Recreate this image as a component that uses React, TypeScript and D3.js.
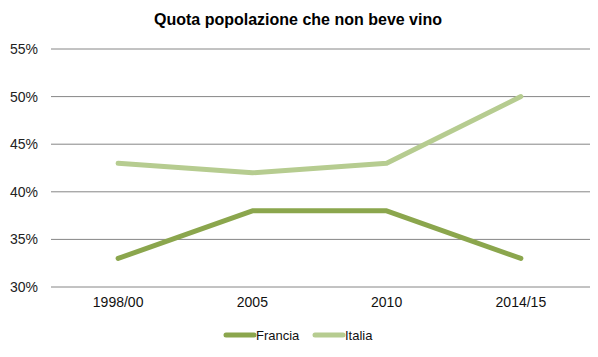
import React from "react";
import * as d3 from "d3";

const categories = ["1998/00", "2005", "2010", "2014/15"];
const francia = [33, 38, 38, 33];
const italia = [43, 42, 43, 50];
const yTicks = [30, 35, 40, 45, 50, 55];
const seriesNames = ["Francia", "Italia"];
const colors = ["#8ba64d", "#b6cc90"];

export default function App() {
  const W = 598, H = 357;
  const left = 51, right = 588, top = 49, bottom = 287;
  const x = d3.scaleBand<string>().domain(categories).range([left, right]);
  const y = d3.scaleLinear().domain([30, 55]).range([bottom, top]);
  const line = d3
    .line<number>()
    .x((_, i) => (x(categories[i]) as number) + x.bandwidth() / 2)
    .y((d) => y(d));
  const series = [francia, italia];
  const font = "'Liberation Sans', Arial, sans-serif";
  return (
    <svg width={W} height={H} style={{ position: "absolute", left: 0, top: 0 }}>
      <rect width={W} height={H} fill="#fff" />
      <text x={298} y={25} textAnchor="middle" fontFamily={font} fontWeight="bold" fontSize={16} fill="#000">
        Quota popolazione che non beve vino
      </text>
      {yTicks.map((t) => (
        <g key={t}>
          <line x1={left} x2={right + 2} y1={y(t)} y2={y(t)} stroke="#868686" strokeWidth={1} />
          <text x={38} y={y(t) + 5} textAnchor="end" fontFamily={font} fontSize={14} fill="#222">
            {t}%
          </text>
        </g>
      ))}
      {categories.map((c) => (
        <text key={c} x={(x(c) as number) + x.bandwidth() / 2} y={307} textAnchor="middle" fontFamily={font} fontSize={14} fill="#111">
          {c}
        </text>
      ))}
      {series.map((s, i) => (
        <path key={i} d={line(s) as string} fill="none" stroke={colors[i]} strokeWidth={5} strokeLinejoin="round" strokeLinecap="round" />
      ))}
      {seriesNames.map((n, i) => {
        const lx = i === 0 ? 226 : 315;
        return (
          <g key={n}>
            <line x1={lx} x2={lx + 28} y1={335} y2={335} stroke={colors[i]} strokeWidth={5} strokeLinecap="round" />
            <text x={lx + 30} y={340} fontFamily={font} fontSize={13} fill="#111">
              {n}
            </text>
          </g>
        );
      })}
    </svg>
  );
}
